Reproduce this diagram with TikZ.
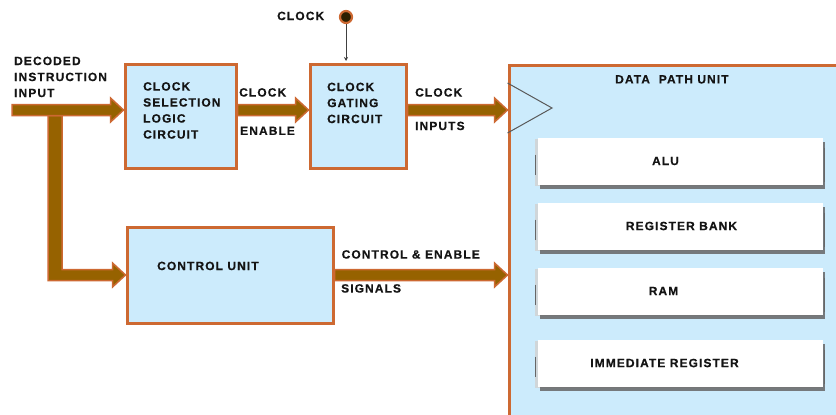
\documentclass[tikz,border=0pt]{standalone}
\usepackage{fontspec}
\setmainfont{Liberation Sans}
\newfontfamily\lblfont{Liberation Sans}[LetterSpace=9, BoldFeatures={FakeBold=0.5}]
\usetikzlibrary{arrows.meta,calc,shadows}
\definecolor{boxfill}{RGB}{204,235,252}
\definecolor{edge}{RGB}{205,105,50}
\definecolor{shaft}{RGB}{150,98,0}
\definecolor{ink}{RGB}{20,20,20}
\definecolor{dotc}{RGB}{45,32,0}
\tikzset{
  lbl/.style={font=\lblfont\bfseries\fontsize{12}{16}\selectfont, text=ink, inner sep=0pt, align=left},
  unit/.style={draw=edge, line width=3pt, fill=boxfill, inner sep=0pt, anchor=north west},
  fat/.style={draw=edge, fill=shaft, line width=1.5pt, line join=miter},
  part/.style={fill=white, draw=none, inner sep=0pt,
    minimum width=285pt, minimum height=47pt,
    general shadow={shadow xshift=-3pt, shadow yshift=-1pt, fill=black!18, opacity=.8},
    drop shadow={shadow xshift=2pt, shadow yshift=-4pt, fill=black!60, opacity=.85}},
  partedge/.style={draw=black!60, line width=1.2pt},
  thinarrow/.style={draw=black!75, line width=0.8pt, -{Stealth[length=4pt,width=4pt]}},
}
% horizontal fat arrow from the first point to the x of the second
\newcommand\fatarrow[2]{%
  \filldraw[fat] let \p1=#1, \p2=#2 in
    (\x1,\y1+5.5pt) -- (\x2-13pt,\y1+5.5pt) -- (\x2-13pt,\y1+12pt) -- (\x2,\y1)
    -- (\x2-13pt,\y1-12pt) -- (\x2-13pt,\y1-5.5pt) -- (\x1,\y1-5.5pt) -- cycle;}
\begin{document}
\begin{tikzpicture}[x=1pt,y=-1pt]
\useasboundingbox (0,0) rectangle (836,415);
\clip (0,0) rectangle (836,415);

% functional blocks
\node[unit, minimum width=111pt, minimum height=104pt] (csl) at (123.5,62.5) {};
\node[unit, minimum width=96pt, minimum height=104pt] (cg) at (308.5,62.5) {};
\node[unit, minimum width=206pt, minimum height=96pt] (cu) at (125.5,225.5) {};
\node[unit, minimum width=340pt, minimum height=370pt] (dp) at (507.5,63.5) {};

% clock input marker on the data path unit
\draw[black!65, line width=1pt] ($(dp.north west)+(0,19.5)$) -- ($(dp.north west)+(44.5,44.5)$) -- ($(dp.north west)+(0,69.5)$);

% data path parts
\node[part] (alu) at (680.5,161) {};
\node[part] (regs) at (680.5,226) {};
\node[part] (ram) at (680.5,291) {};
\node[part] (imm) at (680.5,363) {};
\foreach \b in {alu,regs,ram,imm} {
  \draw[partedge] ($(\b.west)+(-2,-6.5)$) -- ($(\b.west)+(-2,13.5)$);
  \draw[partedge] ($(\b.east)+(1.5,-13.5)$) -- ($(\b.east)+(1.5,20.5)$);
}
\node[lbl] (alu-t) at ([xshift=-15pt]alu.center) {ALU};
\node[lbl] (regs-t) at ([xshift=1pt]regs.center) {REGISTER BANK};
\node[lbl] (ram-t) at ([xshift=-17pt]ram.center) {RAM};
\node[lbl] (imm-t) at ([xshift=-16pt]imm.center) {IMMEDIATE REGISTER};

% bus arrows
\coordinate (in) at (12,110);
\coordinate (split) at (55,110);
\filldraw[fat] let \p1=(split), \p2=(cu.west) in
  (\x1-7pt,\y1-5.5pt) -- (\x1-7pt,\y2-5.5pt) -- (\x2-13pt,\y2-5.5pt) -- (\x2-13pt,\y2-12pt)
  -- (\x2,\y2) -- (\x2-13pt,\y2+12pt) -- (\x2-13pt,\y2+5.5pt) -- (\x1+7pt,\y2+5.5pt)
  -- (\x1+7pt,\y1-5.5pt) -- cycle;
\fatarrow{(in)}{(csl.west |- in)}
\fatarrow{(csl.east |- in)}{(cg.west |- in)}
\fatarrow{(cg.east |- in)}{(dp.west |- in)}
\fatarrow{(cu.east)}{(cu.east -| dp.west)}

% clock source
\node[circle, fill=dotc, draw=edge, line width=2.2pt, minimum size=12pt, inner sep=0pt] (clk) at (346,17) {};
\draw[thinarrow, shorten >=1.5pt] (clk.south) -- (clk.south |- cg.north);

% labels
\node[lbl, anchor=north west] (dec) at (14,56.5) {DECODED\\INSTRUCTION\\INPUT};
\node[lbl, anchor=north west] (csl-t) at (143,82) {CLOCK\\SELECTION\\LOGIC\\CIRCUIT};
\node[lbl, anchor=north west] (en1) at (239,88) {CLOCK};
\node[lbl, anchor=north west] (en2) at (240,126.5) {ENABLE};
\node[lbl, anchor=north west] (clk-t) at (277,11.5) {CLOCK};
\node[lbl, anchor=north west] (cg-t) at (327,82.5) {CLOCK\\GATING\\CIRCUIT};
\node[lbl, anchor=north west] (ci1) at (415,88) {CLOCK};
\node[lbl, anchor=north west] (ci2) at (415,121.5) {INPUTS};
\node[lbl, anchor=north west] (dp-t) at (615,75) {DATA\ \ PATH UNIT};
\node[lbl, anchor=north west] (cu-t) at (157,261.5) {CONTROL UNIT};
\node[lbl, anchor=north west] (ce1) at (341.5,250) {CONTROL \& ENABLE};
\node[lbl, anchor=north west] (ce2) at (341,284) {SIGNALS};
\end{tikzpicture}
\end{document}
